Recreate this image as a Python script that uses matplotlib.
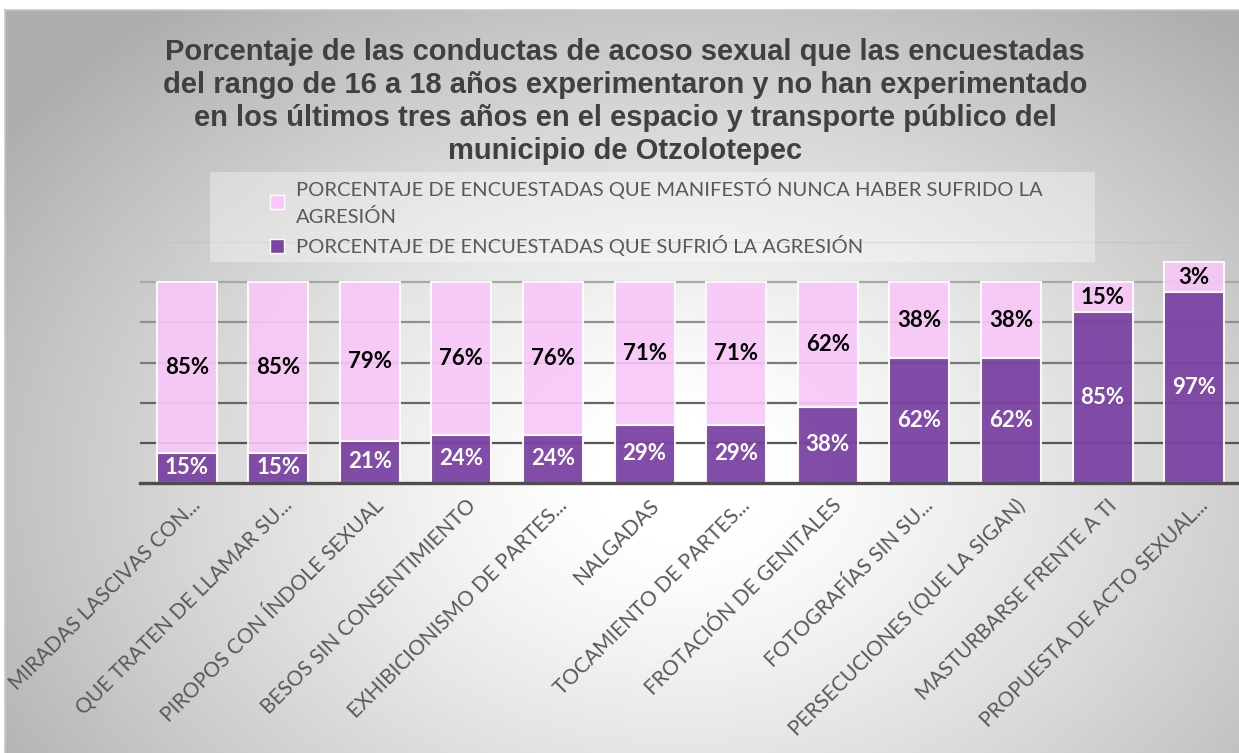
import numpy as np
import matplotlib
matplotlib.use("Agg")
from matplotlib import pyplot as plt
from matplotlib.patches import Rectangle, Patch
from matplotlib.transforms import ScaledTranslation

# data
categorias = ["MIRADAS LASCIVAS CON...", "QUE TRATEN DE LLAMAR SU...",
              "PIROPOS CON ÍNDOLE SEXUAL", "BESOS SIN CONSENTIMIENTO",
              "EXHIBICIONISMO DE PARTES...", "NALGADAS", "TOCAMIENTO DE PARTES...",
              "FROTACIÓN DE GENITALES", "FOTOGRAFÍAS SIN SU...",
              "PERSECUCIONES (QUE LA SIGAN)", "MASTURBARSE FRENTE A TI",
              "PROPUESTA DE ACTO SEXUAL..."]
sufrio = [15, 15, 21, 24, 24, 29, 29, 38, 62, 62, 85, 95]
nunca = [85, 85, 79, 76, 76, 71, 71, 62, 38, 38, 15, 15]
etiq_sufrio = ["15%", "15%", "21%", "24%", "24%", "29%", "29%", "38%", "62%", "62%", "85%", "97%"]
etiq_nunca = ["85%", "85%", "79%", "76%", "76%", "71%", "71%", "62%", "38%", "38%", "15%", "3%"]

TITULO = ("Porcentaje de las conductas de acoso sexual que las encuestadas\n"
          "del rango de 16 a 18 años experimentaron y no han experimentado\n"
          "en los últimos tres años en el espacio y transporte público del\n"
          "municipio de Otzolotepec")
LEY_NUNCA = "PORCENTAJE DE ENCUESTADAS QUE MANIFESTÓ NUNCA HABER SUFRIDO LA\nAGRESIÓN"
LEY_SUFRIO = "PORCENTAJE DE ENCUESTADAS QUE SUFRIÓ LA AGRESIÓN"

PURPLE = "#7B43A3"
PINK = "#F9C6F9"
W, H = 1239, 753

fig = plt.figure(figsize=(W / 100, H / 100), dpi=100)

# radial gray/white background inside the frame
bg = fig.add_axes([0, 0, 1, 1], zorder=-10)
bg.set_axis_off()
yy, xx = np.mgrid[0:H, 0:W]
r = np.sqrt(((xx - 680) / 740.0) ** 2 + ((yy - 480) / 540.0) ** 2)
val = 1.0 - 0.32 * np.clip(r - 0.12, 0, 1) ** 1.2
img = np.dstack([val, val, val])
img[:10, :, :] = 1.0
img[:, :5, :] = 1.0
bg.imshow(img, extent=[0, W, H, 0], aspect="auto", interpolation="bilinear")
bg.set_xlim(0, W)
bg.set_ylim(H, 0)
bg.plot([5, W], [10, 10], color="#c8c8c8", lw=1.2)
bg.plot([5, 5], [10, H], color="#c8c8c8", lw=1.2)

# legend backdrop
fig.patches.append(Rectangle((210 / W, 1 - 262 / H), 885 / W, 90 / H,
                             transform=fig.transFigure, facecolor="white",
                             alpha=0.35, edgecolor="none", zorder=0))

ax = fig.add_axes([140 / W, 1 - 483 / H, 1 - 140 / W, (483 - 242) / H])
ax.set_facecolor("none")
x = np.arange(len(categorias))
bw = 0.655

grid_cols = ["#555555", "#666666", "#7a7a7a", "#909090", "#a8a8a8", "#c4c4c4"]
for lvl, gc in zip([20, 40, 60, 80, 100, 120], grid_cols):
    ax.axhline(lvl, color=gc, lw=1.6, zorder=0)

b1 = ax.bar(x, sufrio, bw, color=PURPLE, alpha=0.95, edgecolor="white", lw=1.5, zorder=2)
b2 = ax.bar(x, nunca, bw, bottom=sufrio, color=PINK, alpha=0.9, edgecolor="white", lw=1.5, zorder=2)

for i in range(len(x)):
    ax.text(x[i], sufrio[i] / 2, etiq_sufrio[i], ha="center", va="center",
            color="white", fontsize=16, fontweight="bold", family="Lato", zorder=3)
    ax.text(x[i], sufrio[i] + nunca[i] / 2, etiq_nunca[i], ha="center", va="center",
            color="black", fontsize=16, fontweight="bold", family="Lato", zorder=3)

ax.set_xlim(-0.51, 11.49)
ax.set_ylim(0, 120)
ax.set_yticks([])
for s in ["top", "left", "right"]:
    ax.spines[s].set_visible(False)
ax.spines["bottom"].set_color("#4d4d4d")
ax.spines["bottom"].set_linewidth(2.4)
ax.spines["bottom"].set_zorder(4)
ax.set_xticks(x)
ax.set_xticklabels(categorias, rotation=45, ha="right", va="center",
                   rotation_mode="anchor", fontsize=15, color="#595959", family="Lato")
ax.tick_params(axis="x", length=0, pad=14)
shift = ScaledTranslation(0.11, 0, fig.dpi_scale_trans)
for lab in ax.get_xticklabels():
    lab.set_transform(lab.get_transform() + shift)

fig.text(625 / W, 1 - 38 / H, TITULO, ha="center", va="top", fontsize=21,
         fontweight="bold", color="#404040", family="Liberation Sans", linespacing=1.22)

handles = [Patch(facecolor=PINK, edgecolor="white"), Patch(facecolor=PURPLE, edgecolor="white")]
leg = fig.legend(handles, [LEY_NUNCA, LEY_SUFRIO], loc="upper left",
                 bbox_to_anchor=(252 / W, 1 - 160 / H), frameon=False,
                 prop={"family": "Lato", "size": 14.5}, labelcolor="#595959",
                 handlelength=0.7, handleheight=0.7, handletextpad=0.6, labelspacing=0.45)
for t in leg.get_texts():
    t.set_linespacing(1.6)

plt.savefig("out.png", dpi=100)
